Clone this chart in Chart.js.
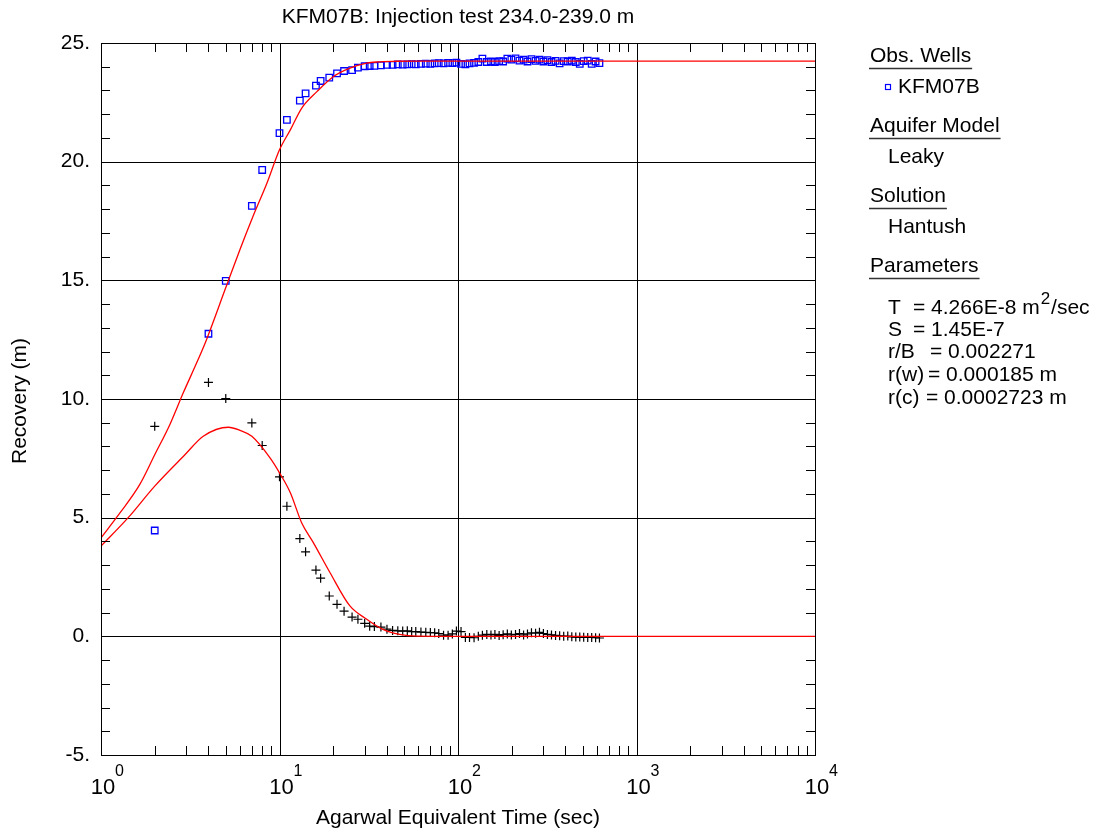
<!DOCTYPE html>
<html>
<head>
<meta charset="utf-8">
<script src="https://cdn.jsdelivr.net/npm/chart.js@4.4.0/dist/chart.umd.min.js"></script>
<style>
  html, body { margin: 0; padding: 0; background: #fff; }
  #wrap { width: 1116px; height: 831px; }
</style>
</head>
<body>
<div id="wrap"><canvas id="chart" width="1116" height="831"></canvas></div>
<script>
// ══ DATA ═════════════════════════════════════════════════════════
const obsTime = [2, 4, 5, 7, 8, 10, 11, 13, 14, 16, 17, 19, 21, 23, 25.5, 27.5, 30, 32, 34, 37,
  40, 43, 46, 49, 52, 55, 58, 62, 66, 70, 74, 78, 83, 88, 93, 98,
  104, 110, 116, 123, 130, 137, 145, 153, 161, 170, 179, 189, 199, 210, 221, 233, 245, 258, 272, 286,
  301, 317, 334, 352, 371, 391, 412, 434, 457, 481, 506, 533, 561, 590, 620];

const obsRecovery = [4.46, 12.75, 14.98, 18.14, 19.65, 21.2, 21.76, 22.57, 22.88, 23.2, 23.4, 23.54, 23.72, 23.82, 23.86, 23.96, 24.02, 24.03, 24.04, 24.06,
  24.08, 24.08, 24.1, 24.09, 24.1, 24.11, 24.1, 24.12, 24.13, 24.12, 24.14, 24.15, 24.14, 24.16, 24.15, 24.17,
  24.12, 24.1, 24.14, 24.16, 24.2, 24.34, 24.2, 24.22, 24.2, 24.24, 24.22, 24.34, 24.3, 24.35, 24.26, 24.3, 24.22, 24.32, 24.25, 24.3,
  24.22, 24.28, 24.2, 24.25, 24.14, 24.24, 24.22, 24.26, 24.2, 24.12, 24.24, 24.26, 24.12, 24.22, 24.15];

const obsDerivative = [8.85, 10.7, 10.02, 8.99, 8.04, 6.72, 5.48, 4.12, 3.56, 2.79, 2.45, 1.7, 1.35, 1.06, 0.81, 0.72, 0.55, 0.43, 0.41, 0.39,
  0.3, 0.25, 0.23, 0.22, 0.23, 0.2, 0.2, 0.18, 0.17, 0.16, 0.15, 0.12, 0.05, 0.05, 0.1, 0.22,
  0.2, -0.05, -0.05, -0.06, 0.0, 0.05, 0.08, 0.06, 0.08, 0.03, 0.07, 0.1, 0.06, 0.08, 0.12, 0.06, 0.1, 0.15, 0.13, 0.17,
  0.12, 0.08, 0.06, 0.04, 0.02, 0.0, 0.01, -0.02, -0.03, -0.03, -0.04, -0.05, -0.05, -0.06, -0.07];

const fitTime = [1, 1.28, 1.65, 2.0, 2.44, 2.89, 3.5, 3.9, 4.95, 6.0, 7.1, 8.5, 10, 11.5, 13.3, 16.2, 20, 24.8, 30.8, 35, 45, 60, 100, 1000, 10000];
const fitRecovery = [4.15, 5.21, 6.4, 7.65, 8.95, 10.26, 11.66, 12.5, 14.6, 16.29, 17.69, 19.09, 20.5, 21.34, 22.25, 22.95, 23.58, 23.94, 24.15, 24.2, 24.23, 24.24, 24.24, 24.24, 24.24];

const derivFitTime = [1, 1.42, 2.0, 2.96, 3.74, 5.17, 6.0, 7.0, 8.85, 10, 11.5, 13.3, 15.5, 19.2, 24.8, 30.8, 38, 47, 59, 100, 1000, 10000];
const derivFitValue = [3.8, 5.0, 6.33, 7.66, 8.43, 8.81, 8.68, 8.43, 7.52, 6.89, 6.05, 4.79, 3.94, 2.68, 1.28, 0.72, 0.29, 0.08, 0.01, 0, 0, 0];

const yTicks = [-5, 0, 5, 10, 15, 20, 25];
const xDecades = [1, 10, 100, 1000, 10000];
const xExponents = ['0', '1', '2', '3', '4'];

const legendRows = [
  { text: 'Obs. Wells', x: 870, y: 56, head: true },
  { text: 'KFM07B', x: 898, y: 87, marker: true },
  { text: 'Aquifer Model', x: 870, y: 126, head: true },
  { text: 'Leaky', x: 888, y: 157 },
  { text: 'Solution', x: 870, y: 196, head: true },
  { text: 'Hantush', x: 888, y: 227 },
  { text: 'Parameters', x: 870, y: 266, head: true },
];
const paramLabels = ['T', 'S', 'r/B', 'r(w)', 'r(c)'];
const paramValues = ['= 4.266E-8 m', '= 1.45E-7', '= 0.002271', '= 0.000185 m', '= 0.0002723 m'];

// ══ HELPERS ══════════════════════════════════════════════════════
const FONT = '"Liberation Sans", Arial, sans-serif';
const pts = (xs, ys) => xs.map((t, i) => ({ x: t, y: ys[i] }));

function line(ctx, x1, y1, x2, y2) {
  ctx.beginPath(); ctx.moveTo(x1, y1); ctx.lineTo(x2, y2); ctx.stroke();
}

const framePlugin = {
  id: 'frame',
  beforeDatasetsDraw(chart) {
    const { ctx, chartArea: a, scales: { x, y } } = chart;
    ctx.save();
    ctx.strokeStyle = '#000';
    ctx.lineWidth = 1;
    xDecades.forEach(v => {
      const px = Math.round(x.getPixelForValue(v)) + 0.5;
      line(ctx, px, a.top, px, a.bottom);
    });
    yTicks.forEach(v => {
      const py = Math.round(y.getPixelForValue(v)) + 0.5;
      line(ctx, a.left, py, a.right, py);
    });
    ctx.restore();
  },
  afterDatasetsDraw(chart) {
    const { ctx, chartArea: a, scales: { x, y } } = chart;
    ctx.save();
    ctx.strokeStyle = '#000';
    ctx.lineWidth = 1;
    // minor ticks, inward on all four sides
    for (let d = 0; d < xDecades.length - 1; d++) {
      for (let m = 2; m <= 9; m++) {
        const px = Math.round(x.getPixelForValue(xDecades[d] * m)) + 0.5;
        line(ctx, px, a.bottom, px, a.bottom - 9);
        line(ctx, px, a.top, px, a.top + 9);
      }
    }
    for (let v = -5; v <= 25; v++) {
      if (v % 5 === 0) continue;
      const py = Math.round(y.getPixelForValue(v)) + 0.5;
      line(ctx, a.left, py, a.left + 9, py);
      line(ctx, a.right, py, a.right - 9, py);
    }
    ctx.strokeRect(Math.round(a.left) + 0.5, Math.round(a.top) + 0.5, Math.round(a.right - a.left), Math.round(a.bottom - a.top));
    ctx.restore();
  },
  afterDraw(chart) {
    const { ctx, chartArea: a, scales: { x, y } } = chart;
    ctx.save();
    ctx.fillStyle = '#000';
    const cx = (a.left + a.right) / 2;

    // title
    ctx.font = '21px ' + FONT;
    ctx.textAlign = 'center';
    ctx.textBaseline = 'middle';
    ctx.fillText('KFM07B: Injection test 234.0-239.0 m', cx, 17);

    // y tick labels
    ctx.textAlign = 'right';
    yTicks.forEach(v => ctx.fillText(v + '.', 90, y.getPixelForValue(v)));

    // x tick labels with exponents
    xDecades.forEach((v, i) => {
      const px = x.getPixelForValue(v);
      ctx.font = '22px ' + FONT;
      ctx.textAlign = 'center';
      ctx.textBaseline = 'alphabetic';
      ctx.fillText('10', px + 2, 794);
      ctx.font = '16px ' + FONT;
      ctx.textAlign = 'left';
      ctx.fillText(xExponents[i], px + 14, 776);
    });

    // axis titles
    ctx.font = '21px ' + FONT;
    ctx.textAlign = 'center';
    ctx.textBaseline = 'middle';
    ctx.fillText('Agarwal Equivalent Time (sec)', cx, 818);
    ctx.save();
    ctx.translate(20, 401);
    ctx.rotate(-Math.PI / 2);
    ctx.fillText('Recovery (m)', 0, 0);
    ctx.restore();

    // legend / info panel
    ctx.textAlign = 'left';
    ctx.textBaseline = 'middle';
    ctx.font = '21px ' + FONT;
    legendRows.forEach(r => {
      ctx.fillText(r.text, r.x, r.y);
      if (r.head) {
        const w = ctx.measureText(r.text).width;
        ctx.strokeStyle = '#333';
        ctx.lineWidth = 1.5;
        line(ctx, r.x - 1, r.y + 12.5, r.x + w + 1, r.y + 12.5);
      }
      if (r.marker) {
        ctx.strokeStyle = '#0000ff';
        ctx.lineWidth = 1.2;
        ctx.strokeRect(885.5, 84.5, 5, 5);
      }
    });

    const rowY = [308, 330, 352, 375, 398];
    const eqX = [913, 913, 930, 928, 926];
    paramLabels.forEach((lab, i) => {
      ctx.fillText(lab, 888, rowY[i]);
      ctx.fillText(paramValues[i], eqX[i], rowY[i]);
    });
    // superscript for m^2/sec
    const tw = ctx.measureText(paramValues[0]).width;
    ctx.font = '17px ' + FONT;
    ctx.fillText('2', eqX[0] + tw + 1, rowY[0] - 9);
    const sw = ctx.measureText('2').width;
    ctx.font = '21px ' + FONT;
    ctx.fillText('/sec', eqX[0] + tw + sw + 2, rowY[0]);

    ctx.restore();
  }
};

// ══ CHART ════════════════════════════════════════════════════════
new Chart(document.getElementById('chart'), {
  type: 'scatter',
  data: {
    datasets: [
      { label: 'Hantush fit', data: pts(fitTime, fitRecovery), showLine: true, borderColor: '#ff0000', borderWidth: 1.3,
        pointRadius: 0, cubicInterpolationMode: 'monotone', order: 0 },
      { label: 'Derivative fit', data: pts(derivFitTime, derivFitValue), showLine: true, borderColor: '#ff0000', borderWidth: 1.3,
        pointRadius: 0, cubicInterpolationMode: 'monotone', order: 0 },
      { label: 'KFM07B', data: pts(obsTime, obsRecovery), showLine: false, pointStyle: 'rect', pointRadius: 4.6,
        borderColor: '#0000ff', backgroundColor: 'rgba(0,0,0,0)', borderWidth: 1.3, order: 1 },
      { label: 'Derivative', data: pts(obsTime, obsDerivative), showLine: false, pointStyle: 'cross', pointRadius: 4.5,
        borderColor: '#000', borderWidth: 1.2, order: 1 },
    ]
  },
  options: {
    responsive: false,
    animation: false,
    devicePixelRatio: 1,
    layout: { padding: { left: 101, right: 301, top: 43, bottom: 76 } },
    plugins: { legend: { display: false }, tooltip: { enabled: false } },
    scales: {
      x: { type: 'logarithmic', min: 1, max: 10000, display: false },
      y: { type: 'linear', min: -5, max: 25, display: false }
    }
  },
  plugins: [framePlugin]
});
</script>
</body>
</html>
